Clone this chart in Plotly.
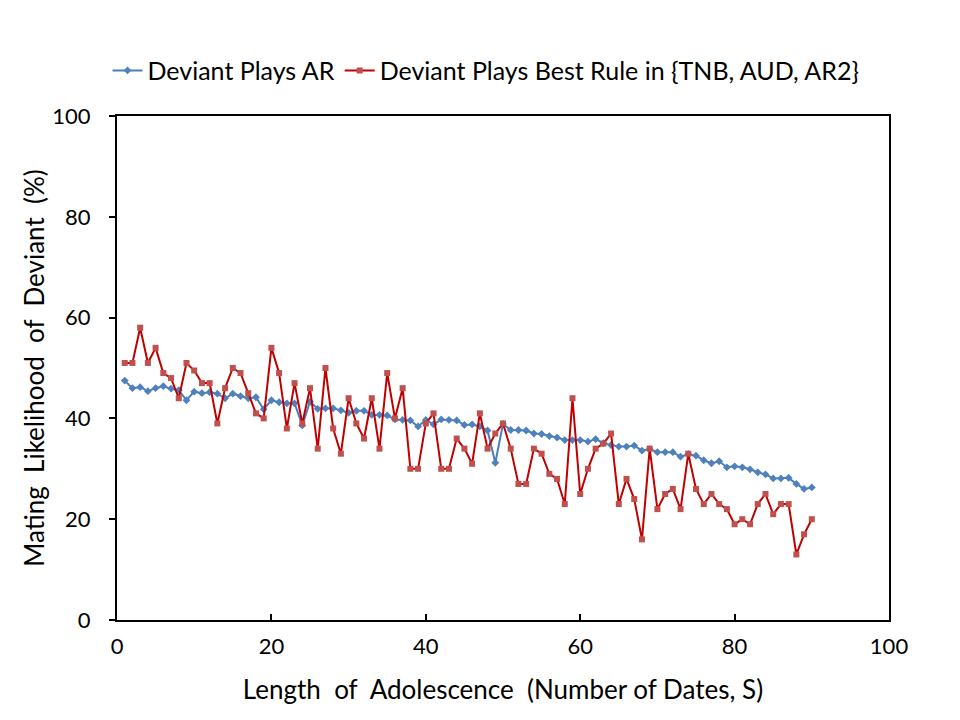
import plotly.graph_objects as go

dates = list(range(1, 91))

deviant_ar = [47.5, 46, 46.2, 45.4, 46, 46.4, 45.9, 45.6, 43.6, 45.3,
              45, 45.2, 44.9, 44, 44.9, 44.4, 44, 44.2, 41.8, 43.6,
              43.2, 43, 43, 38.6, 43.3, 41.9, 42, 42, 41.6, 41.1,
              41.5, 41.5, 40.7, 40.7, 40.6, 39.8, 39.7, 39.6, 38.4, 39.7,
              38.8, 39.8, 39.7, 39.6, 38.7, 38.8, 38.4, 37.6, 31.2, 38.9,
              37.7, 37.7, 37.6, 37, 36.9, 36.5, 36.2, 35.7, 35.7, 35.7,
              35.4, 35.9, 35.1, 34.7, 34.4, 34.4, 34.6, 33.6, 33.9, 33.3,
              33.3, 33.3, 32.4, 32.9, 32.6, 31.7, 31.1, 31.5, 30.3, 30.5,
              30.3, 29.9, 29.3, 28.9, 28.1, 28.1, 28.2, 27, 26, 26.3]

deviant_best = [51, 51, 58, 51, 54, 49, 48, 44, 51, 49.5,
                47, 47, 39, 46, 50, 49, 45, 41, 40, 54,
                49, 38, 47, 39, 46, 34, 50, 38, 33, 44,
                39, 36, 44, 34, 49, 40, 46, 30, 30, 39,
                41, 30, 30, 36, 34, 31, 41, 34, 37, 39,
                34, 27, 27, 34, 33, 29, 28, 23, 44, 25,
                30, 34, 35, 37, 23, 28, 24, 16, 34, 22,
                25, 26, 22, 33, 26, 23, 25, 23, 22, 19,
                20, 19, 23, 25, 21, 23, 23, 13, 17, 20]

x_ticks = [0, 20, 40, 60, 80, 100]
y_ticks = [0, 20, 40, 60, 80, 100]

FONT = "Lato"
NB = "\u00a0"
G = NB * 2

fig = go.Figure()
fig.add_trace(go.Scatter(
    x=dates, y=deviant_ar, mode="lines+markers", name="Deviant Plays AR",
    line=dict(color="#4A7EBB", width=2),
    marker=dict(symbol="diamond", size=6, color="#4F81BD"),
))
fig.add_trace(go.Scatter(
    x=dates, y=deviant_best, mode="lines+markers",
    name="Deviant Plays Best Rule in {TNB, AUD, AR2}",
    line=dict(color="#C00000", width=2),
    marker=dict(symbol="square", size=6, color="#C0504D"),
))

axis_common = dict(
    showline=True, linecolor="black", linewidth=2, mirror=True,
    showgrid=False, zeroline=False, ticklen=6, tickwidth=2, tickcolor="black",
    tickfont=dict(family=FONT, size=22, color="black"),
)

fig.update_layout(
    width=960, height=720,
    margin=dict(l=109, r=79, t=108, b=108),
    paper_bgcolor="white", plot_bgcolor="white",
    font=dict(family=FONT, color="black"),
    showlegend=True,
    legend=dict(
        orientation="h", x=0.478, xanchor="center", y=1.09, yanchor="middle",
        font=dict(family=FONT, size=25, color="black"),
        itemwidth=30, tracegroupgap=0,
    ),
    xaxis=dict(
        range=[0, 100], tickvals=x_ticks, ticks="inside", ticklabelstandoff=6,
        title=dict(text=f"Length{G}of{G}Adolescence{G}(Number of Dates, S)",
                   font=dict(family=FONT, size=26, color="black"), standoff=22),
        **axis_common,
    ),
    yaxis=dict(
        range=[0, 100], tickvals=y_ticks, ticks="outside", ticklabelstandoff=14,
        title=dict(text=f"Mating{G}Likelihood{G}of{G}Deviant{G}(%)",
                   font=dict(family=FONT, size=26, color="black"), standoff=0),
        **axis_common,
    ),
)

fig.write_html("out.html")
